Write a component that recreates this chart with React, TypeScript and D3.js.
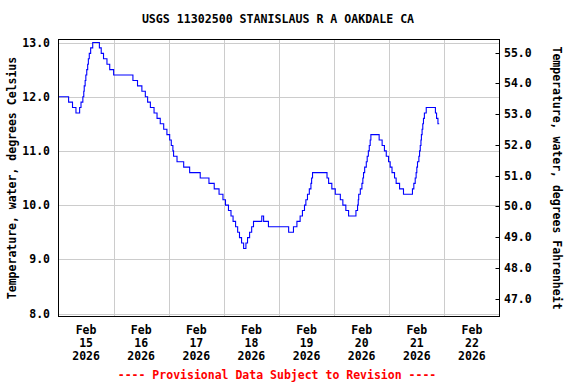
import React from 'react';
import * as d3 from 'd3';

// station + labels
const title = 'USGS 11302500 STANISLAUS R A OAKDALE CA';
const leftLabel = 'Temperature, water, degrees Celsius';
const rightLabel = 'Temperature, water, degrees Fahrenheit';
const footer = '---- Provisional Data Subject to Revision ----';

// time window (UTC so the browser timezone does not matter)
const startDate = Date.UTC(2026, 1, 15);
const endDate = Date.UTC(2026, 1, 23);

// hours after Feb 15 00:00 where the reading changes, and the new reading (deg C)
const changeHours = [
  0, 4.4, 6.1, 7.6, 9.2, 9.8, 10.6, 11.0, 11.2, 11.6, 11.9, 12.3, 12.7, 13.0, 13.4, 14.0, 14.9,
  17.8, 18.6, 19.6, 21.1, 22.3, 24.0, 32.4, 34.4, 36.3, 37.8, 38.8, 40.0, 41.6, 42.9, 44.3,
  45.8, 47.2, 48.4, 49.1, 49.8, 50.1, 51.6, 54.5, 57.1, 61.7, 65.5, 67.8, 69.9, 71.6, 72.7,
  74.0, 75.1, 76.0, 77.1, 78.0, 78.8, 79.7, 80.6, 81.6, 82.3, 83.2, 84.1, 84.9, 88.5, 89.3,
  91.4, 100.2, 102.3, 103.8, 105.2, 106.2, 107.1, 107.7, 108.4, 109.2, 109.9, 110.2, 110.6,
  116.9, 117.6, 119.0, 120.5, 122.7, 123.8, 125.1, 126.3, 129.5, 130.2, 130.5, 130.7, 131.4,
  132.1, 132.5, 132.8, 133.3, 134.0, 134.4, 134.9, 135.3, 135.7, 136.0, 139.6, 140.9, 141.9,
  142.7, 143.7, 144.4, 145.2, 146.3, 147.0, 148.5, 150.2, 154.1, 154.7, 155.3, 155.7, 156.0,
  156.3, 156.9, 157.2, 157.5, 157.8, 158.0, 158.3, 158.6, 158.9, 159.3, 160.1, 164.1, 164.6,
  165.2, 165.75,
];
const tempC = [
  12.0, 11.9, 11.8, 11.7, 11.8, 11.9, 12.0, 12.1, 12.2, 12.3, 12.4, 12.5, 12.6, 12.7, 12.8, 12.9, 13.0,
  12.9, 12.8, 12.7, 12.6, 12.5, 12.4, 12.3, 12.2, 12.1, 12.0, 11.9, 11.8, 11.7, 11.6, 11.5,
  11.4, 11.3, 11.2, 11.1, 11.0, 10.9, 10.8, 10.7, 10.6, 10.5, 10.4, 10.3, 10.2, 10.1, 10.0,
  9.9, 9.8, 9.7, 9.6, 9.5, 9.4, 9.3, 9.2, 9.3, 9.4, 9.5, 9.6, 9.7, 9.8, 9.7,
  9.6, 9.5, 9.6, 9.7, 9.8, 9.9, 10.0, 10.1, 10.2, 10.3, 10.4, 10.5, 10.6,
  10.5, 10.4, 10.3, 10.2, 10.1, 10.0, 9.9, 9.8, 9.9, 10.0, 10.1, 10.2, 10.3,
  10.4, 10.5, 10.6, 10.7, 10.8, 10.9, 11.0, 11.1, 11.2, 11.3, 11.2, 11.1, 11.0,
  10.9, 10.8, 10.7, 10.6, 10.5, 10.4, 10.3, 10.2, 10.3, 10.4, 10.5, 10.6, 10.7,
  10.8, 10.9, 11.0, 11.1, 11.2, 11.3, 11.4, 11.5, 11.6, 11.7, 11.8, 11.7, 11.6,
  11.5, 11.5,
];

const celsiusTicks = [8, 9, 10, 11, 12, 13];
const fahrenheitTicks = [47, 48, 49, 50, 51, 52, 53, 54, 55];

const W = 576;
const H = 384;
const left = 58.5;
const right = 499.5;
const top = 39.5;
const bottom = 316.5;
const font = '"DejaVu Sans Mono", monospace';
const fs = 11.5;

const App = () => {
  const x = d3.scaleUtc().domain([startDate, endDate]).range([left, right]);
  const y = d3.scaleLinear().domain([8, 13]).range([313.5, 42.5]);
  const yF = d3.scaleLinear().domain([47, 55]).range([298.5, 52.5]);

  const points = changeHours.map((h, i) => [startDate + h * 3600e3, tempC[i]] as [number, number]);
  const line = d3.line<[number, number]>()
    .x(d => x(d[0]))
    .y(d => y(d[1]))
    .curve(d3.curveStepAfter);

  const days = d3.utcDay.range(startDate, endDate);
  const fmt = d3.format('.1f');
  const midY = (top + bottom) / 2;

  return (
    <svg width={W} height={H} style={{ position: 'absolute', left: 0, top: 0, background: '#fff' }}
      fontFamily={font} fontWeight="bold" fontSize={fs}>
      <rect x={0} y={0} width={W} height={H} fill="#fff" />
      <text x={278} y={23} textAnchor="middle" fontSize={11.6}>{title}</text>

      {/* grid */}
      {days.slice(1).map(d => (
        <line key={+d} x1={Math.round(x(d)) + 0.5} x2={Math.round(x(d)) + 0.5} y1={top} y2={bottom}
          stroke="#cccccc" strokeWidth={1} />
      ))}
      {celsiusTicks.map(t => (
        <line key={t} x1={left} x2={right} y1={Math.round(y(t)) + 0.5} y2={Math.round(y(t)) + 0.5}
          stroke="#cccccc" strokeWidth={1} />
      ))}

      {/* data */}
      <path d={line(points) || ''} fill="none" stroke="#0000ff" strokeWidth={1.1} />

      {/* frame */}
      <rect x={left} y={top} width={right - left} height={bottom - top} fill="none" stroke="#000" strokeWidth={1} />

      {/* left axis */}
      {celsiusTicks.map(t => (
        <text key={t} x={50} y={y(t) + 4} textAnchor="end">{fmt(t)}</text>
      ))}
      {/* right axis */}
      {fahrenheitTicks.map(t => (
        <g key={t}>
          <line x1={right - 4} x2={right} y1={Math.round(yF(t)) + 0.5} y2={Math.round(yF(t)) + 0.5} stroke="#000" />
          <text x={504} y={yF(t) + 4}>{fmt(t)}</text>
        </g>
      ))}

      {/* date labels at noon */}
      {days.map(d => {
        const cx = x(d3.utcHour.offset(d, 12));
        return (
          <text key={+d} x={cx} textAnchor="middle">
            <tspan x={cx} y={334}>{d3.utcFormat('%b')(d)}</tspan>
            <tspan x={cx} y={347}>{d3.utcFormat('%d')(d)}</tspan>
            <tspan x={cx} y={360}>{d3.utcFormat('%Y')(d)}</tspan>
          </text>
        );
      })}

      <text transform={`translate(16,${midY}) rotate(-90)`} textAnchor="middle">{leftLabel}</text>
      <text transform={`translate(553,${midY}) rotate(90)`} textAnchor="middle">{rightLabel}</text>

      <text x={277} y={379} textAnchor="middle" fill="#ff0000">{footer}</text>
    </svg>
  );
};

export default App;
